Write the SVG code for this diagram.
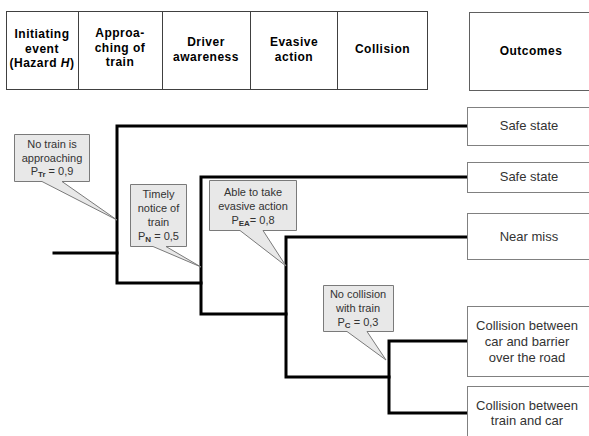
<svg xmlns="http://www.w3.org/2000/svg" width="589" height="436" viewBox="0 0 589 436">
<style>
.hdr{fill:none;stroke:#404040;stroke-width:1}
.ht{font-family:"Liberation Sans",Arial,sans-serif;font-size:12px;font-weight:bold;fill:#000;text-anchor:middle;letter-spacing:0.5px}
.ob{fill:#fff;stroke:#808080;stroke-width:1}
.ot{font-family:"Liberation Sans",Arial,sans-serif;font-size:13px;fill:#333;text-anchor:middle}
.co{fill:#e8e8e8;stroke:#7a7a7a;stroke-width:1}
.ct{font-family:"Liberation Sans",Arial,sans-serif;font-size:11px;fill:#333;text-anchor:middle}
.sub{font-size:8px;font-weight:bold}
.tr{fill:none;stroke:#000;stroke-width:3;stroke-linejoin:miter;stroke-linecap:square}
</style>
<rect width="589" height="436" fill="#fff"/>
<g id="header">
<rect class="hdr" x="6.5" y="11.5" width="421" height="78"/>
<line class="hdr" x1="78.5" y1="11.5" x2="78.5" y2="89.5"/>
<line class="hdr" x1="162.5" y1="11.5" x2="162.5" y2="89.5"/>
<line class="hdr" x1="250.5" y1="11.5" x2="250.5" y2="89.5"/>
<line class="hdr" x1="337.5" y1="11.5" x2="337.5" y2="89.5"/>
<text class="ht" x="42" y="38">Initiating</text>
<text class="ht" x="42" y="52.5">event</text>
<text class="ht" x="42" y="67">(Hazard <tspan font-style="italic">H</tspan>)</text>
<text class="ht" x="120" y="37">Approa-</text>
<text class="ht" x="120" y="51.5">ching of</text>
<text class="ht" x="120" y="66">train</text>
<text class="ht" x="206" y="46">Driver</text>
<text class="ht" x="206" y="61">awareness</text>
<text class="ht" x="294" y="46">Evasive</text>
<text class="ht" x="294" y="61">action</text>
<text class="ht" x="382.5" y="53">Collision</text>
</g>
<g id="outcomes-header">
<rect class="ob" x="469.5" y="12.5" width="130" height="78" style="stroke:#606060"/>
<text class="ht" x="531" y="55">Outcomes</text>
</g>
<g id="connectors">
<path class="tr" d="M54,253 H117"/>
<path class="tr" d="M467,126 H117 V283 H201"/>
<path class="tr" d="M467,177 H201 V314 H286"/>
<path class="tr" d="M467,237 H286 V377 H389"/>
<path class="tr" d="M467,341 H389 V413 H467"/>
</g>
<g id="out-safe1">
<rect class="ob" x="467.5" y="107.5" width="130" height="38"/>
<text class="ot" x="529" y="130">Safe state</text>
</g>
<g id="out-safe2">
<rect class="ob" x="467.5" y="162.5" width="130" height="30"/>
<text class="ot" x="529" y="181">Safe state</text>
</g>
<g id="out-nearmiss">
<rect class="ob" x="467.5" y="213.5" width="130" height="46"/>
<text class="ot" x="529" y="241">Near miss</text>
</g>
<g id="out-collision-barrier">
<rect class="ob" x="467.5" y="306.5" width="130" height="70"/>
<text class="ot" x="527" y="330">Collision between</text>
<text class="ot" x="527" y="346">car and barrier</text>
<text class="ot" x="527" y="362">over the road</text>
</g>
<g id="out-collision-train">
<rect class="ob" x="467.5" y="386.5" width="130" height="60"/>
<text class="ot" x="527" y="410">Collision between</text>
<text class="ot" x="527" y="425">train and car</text>
</g>
<g id="callout-train">
<path class="co" d="M14.5,134.5 H89.5 V181.5 H62 L117,220 L42,181.5 H14.5 Z"/>
<text class="ct" x="52" y="148">No train is</text>
<text class="ct" x="52" y="161.5">approaching</text>
<text class="ct" x="52" y="175">P<tspan class="sub" dy="2">Tr</tspan><tspan dy="-2"> = 0,9</tspan></text>
</g>
<g id="callout-notice">
<path class="co" d="M130.5,184.5 H186.5 V246.5 H166 L201,267 L153,246.5 H130.5 Z"/>
<text class="ct" x="158.5" y="198">Timely</text>
<text class="ct" x="158.5" y="212">notice of</text>
<text class="ct" x="158.5" y="226">train</text>
<text class="ct" x="158.5" y="240">P<tspan class="sub" dy="2">N</tspan><tspan dy="-2"> = 0,5</tspan></text>
</g>
<g id="callout-evasive">
<path class="co" d="M209.5,180.5 H296.5 V230.5 H263 L286,266 L240,230.5 H209.5 Z"/>
<text class="ct" x="253" y="196">Able to take</text>
<text class="ct" x="253" y="210">evasive action</text>
<text class="ct" x="253" y="224">P<tspan class="sub" dy="2">EA</tspan><tspan dy="-2">= 0,8</tspan></text>
</g>
<g id="callout-collision">
<path class="co" d="M323.5,285.5 H393.5 V331.5 H367 L386,360 L347,331.5 H323.5 Z"/>
<text class="ct" x="358" y="298">No collision</text>
<text class="ct" x="358" y="312">with train</text>
<text class="ct" x="358" y="326">P<tspan class="sub" dy="2">C</tspan><tspan dy="-2"> = 0,3</tspan></text>
</g>
</svg>
